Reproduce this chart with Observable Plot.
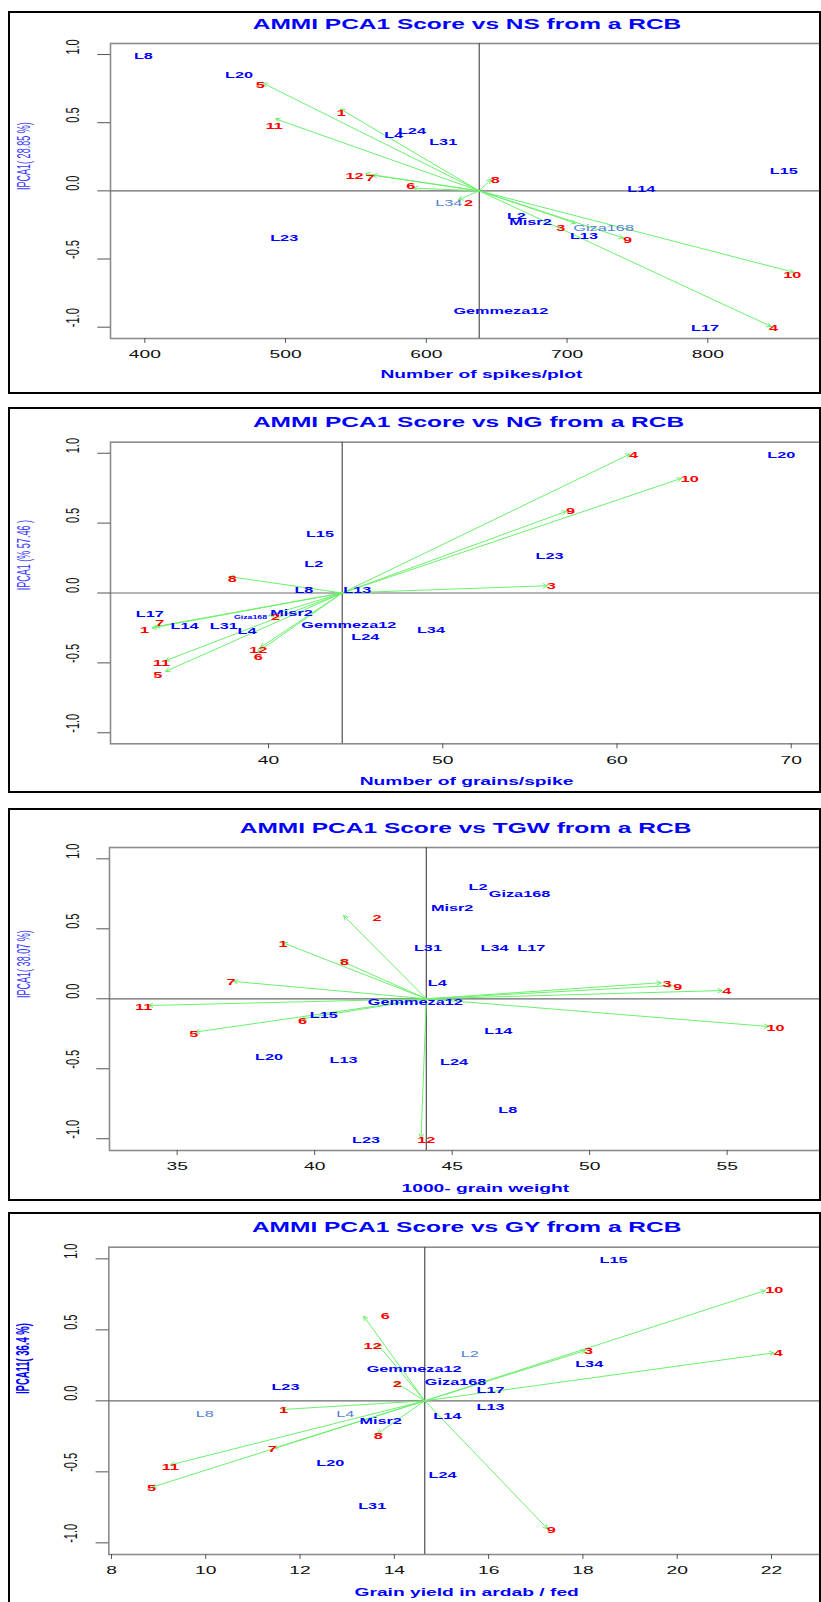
<!DOCTYPE html>
<html><head><meta charset="utf-8">
<script src="https://cdn.jsdelivr.net/npm/d3@7"></script>
<script src="https://cdn.jsdelivr.net/npm/@observablehq/plot@0.6"></script>
<style>
html,body{margin:0;padding:0;background:#fff;}
#page{position:relative;width:821px;height:1602px;overflow:hidden;background:#fff;}
.panel{position:absolute;left:0;}
.border{position:absolute;border:2px solid #000;box-sizing:border-box;pointer-events:none;}
</style></head><body><div id="page"></div>
<script>
const yTicks = [-1, -0.5, 0, 0.5, 1];

// ---- Panel 1: NS
const nsTicks = [400, 500, 600, 700, 800];
const nsMean = 637.6;
const nsGenotypes = [
  ["L8",399,0.99],["L20",467,0.853],["L4",577,0.408],["L24",590,0.442],["L31",612,0.359],
  ["L15",854,0.147],["L14",753,0.01],["L34",616,-0.088],["L2",664,-0.181],["Misr2",674,-0.232],
  ["Giza168",726,-0.274],["L13",712,-0.333],["L23",499,-0.347],["Gemmeza12",653,-0.885],["L17",798,-1.007]
];
// [env, arrow x, arrow y, label x, label y]
const nsEnvironments = [
  ["5",484,0.79,482,0.78],["1",539,0.60,539.5,0.57],["11",493,0.528,492,0.476],
  ["12",557,0.125,549,0.11],["7",562,0.115,560,0.095],["6",591,0.02,589,0.032],
  ["8",646,0.085,649,0.076],["2",623,-0.064,630,-0.088],["3",706,-0.237,695.5,-0.271],
  ["9",740,-0.345,743,-0.357],["10",861,-0.597,860,-0.619],["4",845,-0.995,847,-1.007]
];

// ---- Panel 2: NG
const ngTicks = [40, 50, 60, 70];
const ngMean = 44.23;
const ngGenotypes = [
  ["L15",42.95,0.422],["L2",42.6,0.21],["L8",42.03,0.021],["L13",45.09,0.021],["L17",33.19,-0.15],
  ["Giza168",38.97,-0.177],["Misr2",41.32,-0.143],["L14",35.2,-0.239],["L31",37.43,-0.239],["L4",38.78,-0.27],
  ["Gemmeza12",44.61,-0.229],["L24",45.57,-0.313],["L34",49.34,-0.265],["L23",56.13,0.262],["L20",69.43,0.989]
];
const ngEnvironments = [
  ["4",60.74,0.994,60.97,0.989],["10",63.69,0.82,64.18,0.818],["9",57.09,0.584,57.34,0.584],
  ["3",56.0,0.052,56.23,0.047],["8",37.78,0.117,37.92,0.10],["2",40.02,-0.162,40.4,-0.174],
  ["7",33.51,-0.241,33.76,-0.217],["1",33.32,-0.25,32.88,-0.265],["12",39.54,-0.389,39.41,-0.406],
  ["6",39.35,-0.425,39.41,-0.456],["11",34.09,-0.484,33.86,-0.501],["5",34.09,-0.561,33.64,-0.584]
];

// ---- Panel 3: TGW
const tgwTicks = [35, 40, 45, 50, 55];
const tgwMean = 44.06;
const tgwGenotypes = [
  ["L2",45.94,0.8],["Giza168",47.45,0.752],["Misr2",45.0,0.65],["L31",44.12,0.361],["L34",46.55,0.361],
  ["L17",47.88,0.361],["L4",44.47,0.111],["Gemmeza12",43.66,-0.024],["L15",40.33,-0.119],["L14",46.69,-0.229],
  ["L20",38.34,-0.414],["L13",41.05,-0.434],["L24",45.08,-0.45],["L8",47.02,-0.793],["L23",41.87,-1.007]
];
const tgwEnvironments = [
  ["2",41.05,0.595,42.27,0.579],["1",38.85,0.40,38.85,0.393],["8",40.93,0.274,41.09,0.261],
  ["7",37.05,0.124,36.96,0.119],["11",33.96,-0.048,33.78,-0.06],["6",39.54,-0.143,39.56,-0.162],
  ["5",35.66,-0.238,35.6,-0.253],["12",43.87,-0.996,44.06,-1.007],["3",52.6,0.115,52.81,0.107],
  ["9",53.0,0.095,53.2,0.081],["4",54.81,0.059,55.0,0.052],["10",56.51,-0.198,56.76,-0.21]
];

// ---- Panel 4: GY
const gyTicks = [8, 10, 12, 14, 16, 18, 20, 22];
const gyMean = 14.645;
const gyGenotypes = [
  ["L15",18.65,0.995],["L2",15.6,0.333],["L34",18.14,0.256],["Gemmeza12",14.42,0.225],["Giza168",15.3,0.131],
  ["L17",16.04,0.075],["L13",16.04,-0.045],["L14",15.13,-0.106],["L24",15.03,-0.524],["L23",11.69,0.099],
  ["L8",9.98,-0.096],["L4",12.96,-0.094],["Misr2",13.71,-0.139],["L20",12.64,-0.437],["L31",13.53,-0.744]
];
const gyEnvironments = [
  ["6",13.35,0.596,13.81,0.596],["12",13.64,0.401,13.54,0.385],["2",14.02,0.131,14.06,0.12],
  ["1",11.62,-0.061,11.65,-0.068],["8",13.64,-0.232,13.66,-0.246],["7",11.44,-0.334,11.41,-0.341],
  ["11",9.25,-0.451,9.25,-0.463],["5",8.86,-0.608,8.85,-0.613],["10",21.87,0.777,22.06,0.777],
  ["3",18.05,0.354,18.12,0.349],["4",22.05,0.338,22.15,0.338],["9",17.25,-0.901,17.33,-0.913]
];

const FONT = "'Liberation Sans', Arial, sans-serif";
const SX = 1.75;

const panels = [
  {title:"AMMI PCA1 Score vs NS from a RCB", xlabel:"Number of spikes/plot", ylabel:"IPCA1( 28.85 %)",
   ticks:nsTicks, mean:nsMean, gen:nsGenotypes, env:nsEnvironments, light:["L34","Giza168"], tiny:[],
   top:11, height:383, ml:110, mr:0, mt:32, mb:56, xdom:[375.6,880.8], ydom:[-1.083,1.081],
   tdx:1, tdy:-24, xldx:15.5, xldy:39.7, yldx:-86.7, yldy:4.5, ytdx:-38, ylBold:false, bh:383},
  {title:"AMMI PCA1 Score vs NG from a RCB", xlabel:"Number of grains/spike", ylabel:"IPCA1 (% 57.46 )",
   ticks:ngTicks, mean:ngMean, gen:ngGenotypes, env:ngEnvironments, light:[], tiny:["Giza168"],
   top:407, height:386, ml:110, mr:1, mt:34.7, mb:49.7, xdom:[30.93,71.68], ydom:[-1.079,1.079],
   tdx:3, tdy:-25, xldx:1, xldy:40.7, yldx:-87.3, yldy:3, ytdx:-38.3, ylBold:false, bh:386},
  {title:"AMMI PCA1 Score vs TGW from a RCB", xlabel:"1000- grain weight", ylabel:"IPCA1( 38.07 %)",
   ticks:tgwTicks, mean:tgwMean, gen:tgwGenotypes, env:tgwEnvironments, light:[], tiny:[],
   top:808, height:393, ml:109, mr:0, mt:39, mb:51, xdom:[32.54,58.43], ydom:[-1.084,1.081],
   tdx:0, tdy:-24.7, xldx:20, xldy:41, yldx:-85.7, yldy:4.5, ytdx:-37.3, ylBold:false, bh:393},
  {title:"AMMI PCA1 Score vs GY from a RCB", xlabel:"Grain yield in ardab / fed", ylabel:"IPCA11( 36.4 %)",
   ticks:gyTicks, mean:gyMean, gen:gyGenotypes, env:gyEnvironments, light:["L2","L8","L4"], tiny:[],
   top:1212, height:390, ml:108.3, mr:1, mt:34.7, mb:48, xdom:[7.943,23.04], ydom:[-1.082,1.082],
   tdx:2, tdy:-24.7, xldx:2, xldy:41.7, yldx:-86.6, yldy:-1, ytdx:-38.3, ylBold:true, bh:420}
];

function stretch(svg, sx) {
  svg.querySelectorAll("text").forEach(t => {
    if (!t.textContent) return;
    const b = t.getBBox();
    const tr = t.getAttribute("transform") || "";
    if (/rotate/.test(tr)) {
      const cy = b.y + b.height / 2;
      const cx = b.x + b.width / 2;
      const lx = /^IPCA/.test(t.textContent) ? 0.86 : 1;
      t.setAttribute("transform", `${tr} translate(${cx},${cy}) scale(${lx},${sx}) translate(${-cx},${-cy})`);
    } else {
      const cx = b.x + b.width / 2;
      t.setAttribute("transform", `${tr} translate(${cx},0) scale(${sx},1) translate(${-cx},0)`);
    }
  });
}

const page = document.getElementById("page");
for (const p of panels) {
  const normal = p.gen.filter(d => !p.light.includes(d[0]) && !p.tiny.includes(d[0]));
  const light = p.gen.filter(d => p.light.includes(d[0]));
  const tiny = p.gen.filter(d => p.tiny.includes(d[0]));
  const svg = Plot.plot({
    width: 821, height: p.height,
    marginLeft: p.ml, marginRight: p.mr, marginTop: p.mt, marginBottom: p.mb,
    x: {domain: p.xdom}, y: {domain: p.ydom},
    style: {fontFamily: FONT, background: "transparent", overflow: "visible"},
    marks: [
      Plot.frame({stroke: "#8c8c8c", strokeWidth: 1.6}),
      Plot.ruleY([0], {stroke: "#6a6a6a", strokeWidth: 1.2}),
      Plot.ruleX([p.mean], {stroke: "#505050", strokeWidth: 1.2}),
      Plot.axisX({ticks: p.ticks, tickSize: 5, tickPadding: 7, fontSize: 11, tickFormat: d => String(d), label: null, stroke: "#555", fill: "#111"}),
      Plot.axisY({ticks: yTicks, tickSize: 12.7, tickFormat: () => "", label: null, stroke: "#555"}),
      Plot.text(yTicks, {y: d => d, text: d => d.toFixed(1), frameAnchor: "left", dx: p.ytdx, rotate: -90, fontSize: 11, fill: "#111"}),
      Plot.arrow(p.env, {x1: () => p.mean, y1: () => 0, x2: d => d[1], y2: d => d[2], stroke: "#6cf06c", strokeWidth: 1, headLength: 7, headAngle: 55}),
      Plot.text(normal, {x: d => d[1], y: d => d[2], text: d => d[0], fill: "#0000ff", fontWeight: "bold", fontSize: 9.3}),
      Plot.text(light, {x: d => d[1], y: d => d[2], text: d => d[0], fill: "#4f7fd0", fontWeight: "normal", fontSize: 9.3}),
      Plot.text(tiny, {x: d => d[1], y: d => d[2], text: d => d[0], fill: "#0000ff", fontWeight: "bold", fontSize: 5}),
      Plot.text(p.env, {x: d => d[3], y: d => d[4], text: d => d[0], fill: "#ff0000", fontWeight: "bold", fontSize: 9.3}),
      Plot.text([p.title], {text: d => d, frameAnchor: "top", dx: p.tdx, dy: p.tdy, fontSize: 14, fontWeight: "bold", fill: "#0000ff"}),
      Plot.text([p.xlabel], {text: d => d, frameAnchor: "bottom", dx: p.xldx, dy: p.xldy, fontSize: 11, fontWeight: "bold", fill: "#0000ff"}),
      Plot.text([p.ylabel], {text: d => d, frameAnchor: "left", dx: p.yldx, dy: p.yldy, rotate: -90, fontSize: p.ylBold ? 11 : 10.5, fontWeight: p.ylBold ? "bold" : "normal", fill: p.ylBold ? "#0000ff" : "#3a3aff"})
    ]
  });
  const div = document.createElement("div");
  div.className = "panel";
  div.style.top = p.top + "px";
  div.appendChild(svg);
  page.appendChild(div);
  stretch(svg, SX);
  const b = document.createElement("div");
  b.className = "border";
  b.style.left = "8px"; b.style.top = p.top + "px";
  b.style.width = "813px"; b.style.height = p.bh + "px";
  page.appendChild(b);
}
</script></body></html>
